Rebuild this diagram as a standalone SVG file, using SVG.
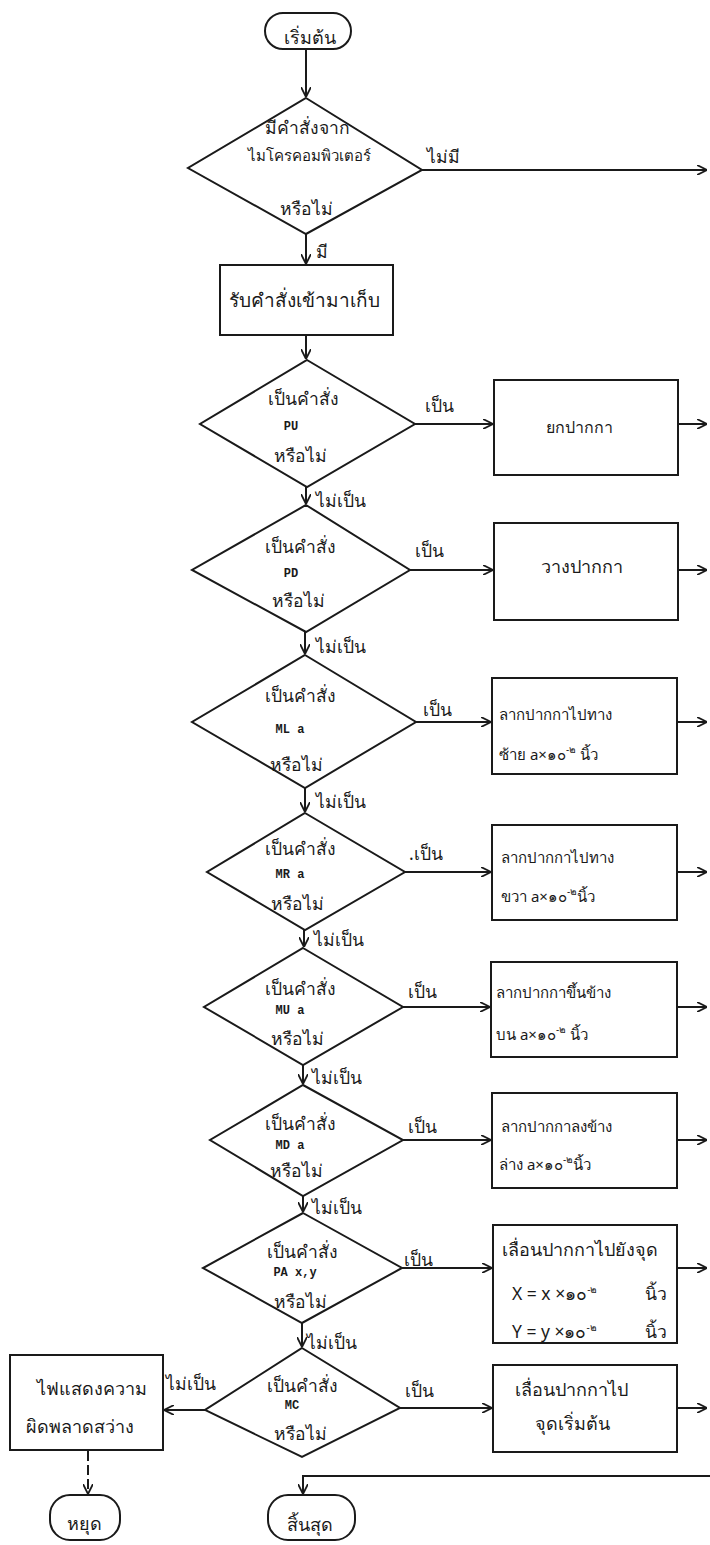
<svg xmlns="http://www.w3.org/2000/svg" width="710" height="1545" viewBox="0 0 710 1545">
<style>
.s{fill:none;stroke:#1a1a1a;stroke-width:2}
.n{fill:#fff;stroke:#1a1a1a;stroke-width:2}
.t{font-family:"Noto Sans","DejaVu Sans",sans-serif;font-size:17.5px;fill:#1a1a1a}
.u{font-size:15px}
.b{font-size:18px}
.m{font-family:"Liberation Mono",monospace;font-size:12px;font-weight:bold;fill:#1a1a1a}
.c{text-anchor:middle}
.sup{font-size:10px}
</style>
<defs>
<marker id="ah" viewBox="0 0 10 10" refX="10" refY="5" markerWidth="10" markerHeight="10" markerUnits="userSpaceOnUse" orient="auto">
<path d="M0,0 L10,5 L0,10" fill="none" stroke="#1a1a1a" stroke-width="1.8"/>
</marker>
</defs>
<rect width="710" height="1545" fill="#fff"/>

<g id="connectors">
<path class="s" d="M306,49 V97" marker-end="url(#ah)"/>
<path class="s" d="M422,170 H707" marker-end="url(#ah)"/>
<path class="s" d="M306,234 V264" marker-end="url(#ah)"/>
<path class="s" d="M306,336 V359" marker-end="url(#ah)"/>
<path class="s" d="M415,424 H493" marker-end="url(#ah)"/>
<path class="s" d="M678,424 H707" marker-end="url(#ah)"/>
<path class="s" d="M306,487 V504" marker-end="url(#ah)"/>
<path class="s" d="M410,570 H493" marker-end="url(#ah)"/>
<path class="s" d="M678,570 H707" marker-end="url(#ah)"/>
<path class="s" d="M305,632 V654" marker-end="url(#ah)"/>
<path class="s" d="M416,722 H491" marker-end="url(#ah)"/>
<path class="s" d="M677,722 H707" marker-end="url(#ah)"/>
<path class="s" d="M305,788 V812" marker-end="url(#ah)"/>
<path class="s" d="M405,872 H491" marker-end="url(#ah)"/>
<path class="s" d="M677,872 H707" marker-end="url(#ah)"/>
<path class="s" d="M304,930 V947" marker-end="url(#ah)"/>
<path class="s" d="M403,1007 H490" marker-end="url(#ah)"/>
<path class="s" d="M677,1007 H707" marker-end="url(#ah)"/>
<path class="s" d="M303,1065 V1084" marker-end="url(#ah)"/>
<path class="s" d="M403,1140 H491" marker-end="url(#ah)"/>
<path class="s" d="M677,1140 H707" marker-end="url(#ah)"/>
<path class="s" d="M303,1196 V1212" marker-end="url(#ah)"/>
<path class="s" d="M402,1268 H492" marker-end="url(#ah)"/>
<path class="s" d="M677,1268 H707" marker-end="url(#ah)"/>
<path class="s" d="M302,1323 V1347" marker-end="url(#ah)"/>
<path class="s" d="M400,1408 H492" marker-end="url(#ah)"/>
<path class="s" d="M677,1408 H707" marker-end="url(#ah)"/>
<path class="s" d="M205,1410 H164" marker-end="url(#ah)"/>
<path class="s" d="M88,1451 V1494" stroke-dasharray="10 4" marker-end="url(#ah)"/>
<path class="s" d="M710,1476 H303 V1494" marker-end="url(#ah)"/>
<text class="t" x="427" y="163">ไม่มี</text>
<text class="t" x="316" y="258">มี</text>
<text class="t" x="425" y="412">เป็น</text>
<text class="t" x="316" y="507">ไม่เป็น</text>
<text class="t" x="415" y="557">เป็น</text>
<text class="t" x="316" y="653">ไม่เป็น</text>
<text class="t" x="423" y="716">เป็น</text>
<text class="t" x="316" y="808">ไม่เป็น</text>
<text class="t" x="409" y="860">.เป็น</text>
<text class="t" x="314" y="946">ไม่เป็น</text>
<text class="t" x="408" y="998">เป็น</text>
<text class="t" x="312" y="1084">ไม่เป็น</text>
<text class="t" x="408" y="1133">เป็น</text>
<text class="t" x="312" y="1214">ไม่เป็น</text>
<text class="t" x="404" y="1266">เป็น</text>
<text class="t" x="307" y="1349">ไม่เป็น</text>
<text class="t" x="405" y="1397">เป็น</text>
<text class="t" x="166" y="1390">ไม่เป็น</text>
</g>

<g id="start">
<rect class="n" x="265" y="13" width="86" height="36" rx="18"/>
<text class="t b c" x="310" y="44">เริ่มต้น</text>
</g>

<g id="d1">
<polygon class="n" points="306,98 422,170 306,234 188,168"/>
<text class="t c" x="307" y="134">มีคำสั่งจาก</text>
<text class="t u c" x="309" y="161">ไมโครคอมพิวเตอร์</text>
<text class="t c" x="306" y="215">หรือไม่</text>
</g>

<g id="b0">
<rect class="n" x="220" y="265" width="173" height="70"/>
<text class="t c" x="304" y="307" style="font-size:19px">รับคำสั่งเข้ามาเก็บ</text>
</g>

<g id="d2">
<polygon class="n" points="307,360 415,424 307,487 200,424"/>
<text class="t c" x="303" y="405">เป็นคำสั่ง</text>
<text class="m c" x="291" y="430">PU</text>
<text class="t c" x="300" y="462">หรือไม่</text>
</g>
<g id="b1">
<rect class="n" x="494" y="380" width="184" height="95"/>
<text class="t c" x="579" y="433" style="font-size:16px">ยกปากกา</text>
</g>

<g id="d3">
<polygon class="n" points="306,505 410,570 306,632 192,570"/>
<text class="t c" x="300" y="553">เป็นคำสั่ง</text>
<text class="m c" x="291" y="577">PD</text>
<text class="t c" x="298" y="607">หรือไม่</text>
</g>
<g id="b2">
<rect class="n" x="494" y="523" width="184" height="97"/>
<text class="t b c" x="582" y="573">วางปากกา</text>
</g>

<g id="d4">
<polygon class="n" points="305,655 416,722 305,788 192,722"/>
<text class="t c" x="300" y="702">เป็นคำสั่ง</text>
<text class="m c" x="290" y="733">ML a</text>
<text class="t c" x="296" y="771">หรือไม่</text>
</g>
<g id="b3">
<rect class="n" x="492" y="678" width="185" height="96"/>
<text class="t u" x="499" y="720">ลากปากกาไปทาง</text>
<text class="t u" x="499" y="760">ซ้าย a×๑๐<tspan class="sup" dy="-7">-๒</tspan><tspan dy="7"> นิ้ว</tspan></text>
</g>

<g id="d5">
<polygon class="n" points="305,813 405,872 305,930 207,872"/>
<text class="t c" x="300" y="855">เป็นคำสั่ง</text>
<text class="m c" x="290" y="878">MR a</text>
<text class="t c" x="297" y="910">หรือไม่</text>
</g>
<g id="b4">
<rect class="n" x="492" y="825" width="185" height="95"/>
<text class="t u" x="501" y="863">ลากปากกาไปทาง</text>
<text class="t u" x="501" y="902">ขวา a×๑๐<tspan class="sup" dy="-7">-๒</tspan><tspan dy="7">นิ้ว</tspan></text>
</g>

<g id="d6">
<polygon class="n" points="303,948 403,1007 303,1065 204,1007"/>
<text class="t c" x="300" y="995">เป็นคำสั่ง</text>
<text class="m c" x="290" y="1014">MU a</text>
<text class="t c" x="297" y="1045">หรือไม่</text>
</g>
<g id="b5">
<rect class="n" x="491" y="962" width="186" height="95"/>
<text class="t u" x="496" y="998">ลากปากกาขึ้นข้าง</text>
<text class="t u" x="496" y="1040">บน a×๑๐<tspan class="sup" dy="-7">-๒</tspan><tspan dy="7"> นิ้ว</tspan></text>
</g>

<g id="d7">
<polygon class="n" points="303,1085 403,1140 303,1196 210,1140"/>
<text class="t c" x="300" y="1130">เป็นคำสั่ง</text>
<text class="m c" x="290" y="1149">MD a</text>
<text class="t c" x="296" y="1177">หรือไม่</text>
</g>
<g id="b6">
<rect class="n" x="492" y="1093" width="185" height="95"/>
<text class="t u" x="501" y="1132">ลากปากกาลงข้าง</text>
<text class="t u" x="499" y="1170">ล่าง a×๑๐<tspan class="sup" dy="-7">-๒</tspan><tspan dy="7">นิ้ว</tspan></text>
</g>

<g id="d8">
<polygon class="n" points="303,1213 402,1268 302,1323 203,1268"/>
<text class="t c" x="302" y="1258">เป็นคำสั่ง</text>
<text class="m c" x="295" y="1276">PA x,y</text>
<text class="t c" x="300" y="1308">หรือไม่</text>
</g>
<g id="b7">
<rect class="n" x="493" y="1225" width="184" height="118"/>
<text class="t b" x="502" y="1256">เลื่อนปากกาไปยังจุด</text>
<text class="t" x="512" y="1300">X = x ×๑๐<tspan class="sup" dy="-7">-๒</tspan><tspan dy="7" x="645">นิ้ว</tspan></text>
<text class="t" x="512" y="1338">Y = y ×๑๐<tspan class="sup" dy="-7">-๒</tspan><tspan dy="7" x="645">นิ้ว</tspan></text>
</g>

<g id="d9">
<polygon class="n" points="302,1348 400,1408 302,1457 205,1410"/>
<text class="t c" x="302" y="1392">เป็นคำสั่ง</text>
<text class="m c" x="292" y="1409">MC</text>
<text class="t c" x="300" y="1440">หรือไม่</text>
</g>
<g id="b8">
<rect class="n" x="493" y="1365" width="184" height="87"/>
<text class="t b c" x="571" y="1396">เลื่อนปากกาไป</text>
<text class="t b c" x="572" y="1430">จุดเริ่มต้น</text>
</g>

<g id="err">
<rect class="n" x="10" y="1355" width="153" height="95"/>
<text class="t b c" x="92" y="1395">ไฟแสดงความ</text>
<text class="t b c" x="80" y="1433">ผิดพลาดสว่าง</text>
</g>

<g id="stop">
<rect class="n" x="50" y="1495" width="70" height="45" rx="20"/>
<text class="t b c" x="84" y="1530">หยุด</text>
</g>

<g id="end">
<rect class="n" x="268" y="1495" width="87" height="45" rx="20"/>
<text class="t b c" x="310" y="1531">สิ้นสุด</text>
</g>
</svg>
